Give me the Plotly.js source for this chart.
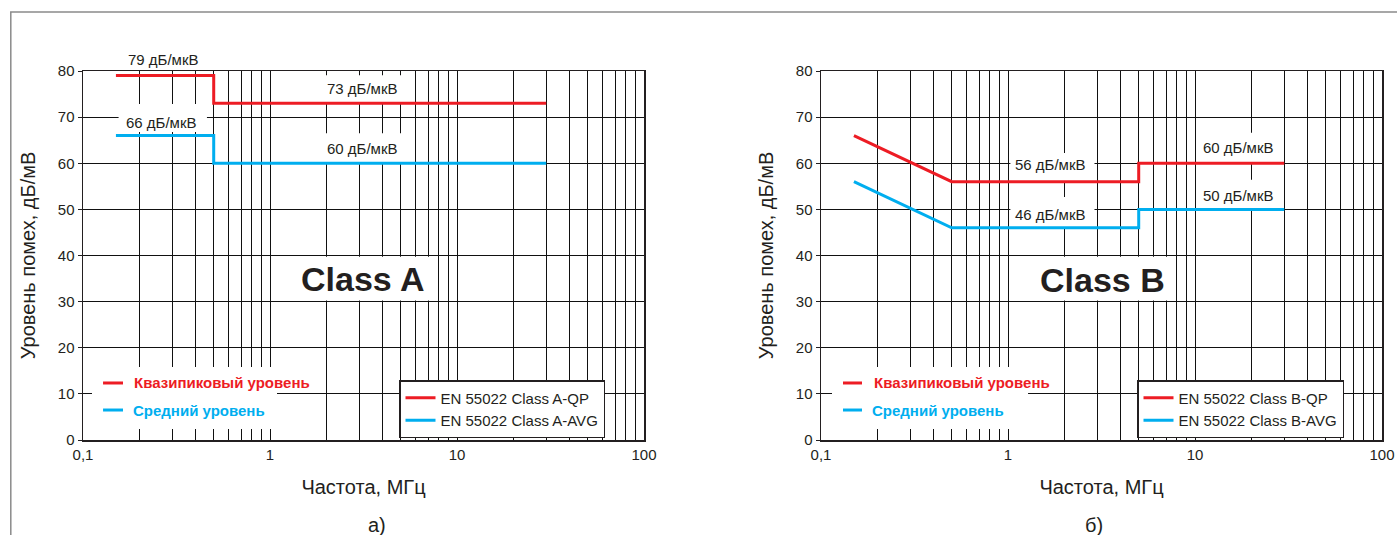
<!DOCTYPE html>
<html><head><meta charset="utf-8">
<script src="https://cdn.plot.ly/plotly-3.0.1.min.js"></script>
<style>html,body{margin:0;padding:0;background:#fff}#chart{width:1397px;height:535px}</style>
</head><body><div id="chart"></div>
<script>
// ---- data ----
const freqA = [0.15, 0.5, 0.5, 30];
const qpA   = [79, 79, 73, 73];
const avgA  = [66, 66, 60, 60];
const freqB = [0.15, 0.5, 5, 5, 30];
const qpB   = [66, 56, 56, 60, 60];
const avgB  = [56, 46, 46, 50, 50];
const namesA = ['EN 55022 Class A-QP', 'EN 55022 Class A-AVG'];
const namesB = ['EN 55022 Class B-QP', 'EN 55022 Class B-AVG'];
const levelNames = ['Квазипиковый уровень', 'Средний уровень'];
const classNames = ['Class A', 'Class B'];
const panelLabels = ['а)', 'б)'];
const xTickVals = [0.1,0.2,0.3,0.4,0.5,0.6,0.7,0.8,0.9,1,2,3,4,5,6,7,8,9,10,20,30,40,50,60,70,80,90,100];
const xTickText = xTickVals.map(v => v === 0.1 ? '0,1' : (v === 1 || v === 10 || v === 100) ? String(v) : '');
const yTickVals = [0,10,20,30,40,50,60,70,80];
const xTitle = 'Частота, МГц';
const yTitle = 'Уровень помех, дБ/мВ';
const unit = ' дБ/мкВ';

// ---- style ----
const RED = '#ED1C24', BLUE = '#00AEEF', INK = '#231F20';
const FONT = 'Liberation Sans, Arial, sans-serif';
const W = 1397;

const traces = [
  {x: freqA, y: qpA,  xaxis: 'x',  yaxis: 'y',  name: namesA[0], legend: 'legend',  mode: 'lines', line: {color: RED,  width: 3}},
  {x: freqA, y: avgA, xaxis: 'x',  yaxis: 'y',  name: namesA[1], legend: 'legend',  mode: 'lines', line: {color: BLUE, width: 3}},
  {x: freqB, y: qpB,  xaxis: 'x2', yaxis: 'y2', name: namesB[0], legend: 'legend2', mode: 'lines', line: {color: RED,  width: 3}},
  {x: freqB, y: avgB, xaxis: 'x2', yaxis: 'y2', name: namesB[1], legend: 'legend2', mode: 'lines', line: {color: BLUE, width: 3}}
];

function xAxis(domain, anchor) {
  return {
    type: 'log', range: [-1, 2], domain: domain, anchor: anchor,
    tickvals: xTickVals, ticktext: xTickText, ticks: '',
    showgrid: true, gridcolor: '#111111', gridwidth: 1,
    showline: true, mirror: true, linecolor: INK, linewidth: 1.5,
    zeroline: false, tickfont: {family: FONT, size: 15, color: INK},
    title: {text: xTitle, font: {family: FONT, size: 20, color: INK}, standoff: 18},
    automargin: false, fixedrange: true
  };
}
function yAxis(anchor) {
  return {
    range: [0, 80], domain: [0, 1], anchor: anchor,
    tickvals: yTickVals, ticks: 'outside', ticklen: 4, tickcolor: INK, tickwidth: 1,
    showgrid: true, gridcolor: '#111111', gridwidth: 1,
    showline: true, mirror: true, linecolor: INK, linewidth: 1.5,
    zeroline: false, tickfont: {family: FONT, size: 15, color: INK},
    title: {text: yTitle, font: {family: FONT, size: 20, color: INK}, standoff: 17},
    automargin: false, fixedrange: true
  };
}

function box(xr, yr, x0, x1, y0, y1) {
  return {type: 'rect', xref: xr, yref: yr, x0: x0, x1: x1, y0: y0, y1: y1,
          fillcolor: '#ffffff', line: {width: 0}, layer: 'between'};
}
function dash(xr, yr, x0, x1, y, color) {
  return {type: 'line', xref: xr, yref: yr, x0: x0, x1: x1, y0: y, y1: y,
          line: {color: color, width: 3}, layer: 'above'};
}
function label(xr, yr, lx, y, text, opts) {
  return Object.assign({xref: xr, yref: yr, x: lx, y: y, text: text, showarrow: false,
          yanchor: 'middle', font: {family: FONT, size: 15, color: INK}}, opts || {});
}

const shapes = [
  // white knock-outs behind the labels (left panel)
  box('x', 'y', 0.155, 0.46, 66.8, 72.85),
  box('x', 'y', 1.28, 5.6, 73, 79.1),
  box('x', 'y', 1.28, 5.6, 60, 66.5),
  box('x', 'y', 1.38, 7.45, 30.25, 39.75),
  box('x', 'y', 0.1117, 1.09, 2.4, 15.8),
  // right panel
  box('x2', 'y2', 1.03, 2.9, 56, 62.2),
  box('x2', 'y2', 1.03, 2.9, 46, 52.7),
  box('x2', 'y2', 10.3, 29, 60, 66.6),
  box('x2', 'y2', 10.3, 29, 50, 56.4),
  box('x2', 'y2', 1.31, 7.54, 30.25, 39.75),
  box('x2', 'y2', 0.1145, 1.28, 2.4, 15.8),
  // level legend dashes
  dash('x', 'y', 0.128, 0.1637, 12.36, RED),
  dash('x', 'y', 0.128, 0.1637, 6.5, BLUE),
  dash('x2', 'y2', 0.1311, 0.1657, 12.36, RED),
  dash('x2', 'y2', 0.1311, 0.1657, 6.5, BLUE),
  // outer frame
  {type: 'rect', xref: 'paper', yref: 'paper', x0: 10.8 / W, x1: 1.02, y0: -0.35, y1: (440 - 12) / 369,
   line: {color: '#8a8a8a', width: 1.5}, fillcolor: 'rgba(0,0,0,0)', layer: 'above'}
];

const annotations = [
  label('x', 'paper', -0.567, (440 - 59) / 369, qpA[0] + unit),
  label('x', 'y', -0.578, 68.9, avgA[0] + unit),
  label('x', 'y', 0.492, 76.1, qpA[3] + unit),
  label('x', 'y', 0.492, 63.3, avgA[3] + unit),
  label('x', 'y', 0.497, 34.9, '<b>' + classNames[0] + '</b>', {font: {family: FONT, size: 34, color: INK}}),
  label('x', 'y', -0.738, 12.36, '<b>' + levelNames[0] + '</b>', {xanchor: 'left', font: {family: FONT, size: 15, color: RED}}),
  label('x', 'y', -0.744, 6.5, '<b>' + levelNames[1] + '</b>', {xanchor: 'left', font: {family: FONT, size: 15, color: BLUE}}),

  label('x2', 'y2', 0.2246, 59.8, qpB[1] + unit),
  label('x2', 'y2', 0.2246, 48.8, avgB[1] + unit),
  label('x2', 'y2', 1.230, 63.5, qpB[4] + unit),
  label('x2', 'y2', 1.230, 53.1, avgB[4] + unit),
  label('x2', 'y2', 0.503, 34.7, '<b>' + classNames[1] + '</b>', {font: {family: FONT, size: 34, color: INK}}),
  label('x2', 'y2', -0.727, 12.36, '<b>' + levelNames[0] + '</b>', {xanchor: 'left', font: {family: FONT, size: 15, color: RED}}),
  label('x2', 'y2', -0.738, 6.5, '<b>' + levelNames[1] + '</b>', {xanchor: 'left', font: {family: FONT, size: 15, color: BLUE}}),

  label('paper', 'paper', 366 / W, (440 - 525) / 369, panelLabels[0], {font: {family: FONT, size: 20, color: INK}}),
  label('paper', 'paper', 1105 / W, (440 - 525) / 369, panelLabels[1], {font: {family: FONT, size: 20, color: INK}})
];

function legendCfg(px) {
  return {x: px / W, y: (440 - 380) / 369, xref: 'paper', yref: 'paper', xanchor: 'left', yanchor: 'top',
          bgcolor: '#ffffff', bordercolor: INK, borderwidth: 1.5, tracegroupgap: 0,
          font: {family: FONT, size: 15, color: INK}};
}

const layout = {
  width: 1397, height: 535,
  margin: {l: 0, r: 0, t: 71, b: 95, pad: 0},
  paper_bgcolor: '#ffffff', plot_bgcolor: '#ffffff',
  showlegend: true,
  xaxis: xAxis([83 / W, 644 / W], 'y'),
  yaxis: yAxis('x'),
  xaxis2: xAxis([821 / W, 1382 / W], 'y2'),
  yaxis2: yAxis('x2'),
  legend: legendCfg(399),
  legend2: legendCfg(1137),
  shapes: shapes,
  annotations: annotations,
  font: {family: FONT, color: INK}
};

Plotly.newPlot('chart', traces, layout, {displayModeBar: false, staticPlot: true});
</script>
</body></html>
